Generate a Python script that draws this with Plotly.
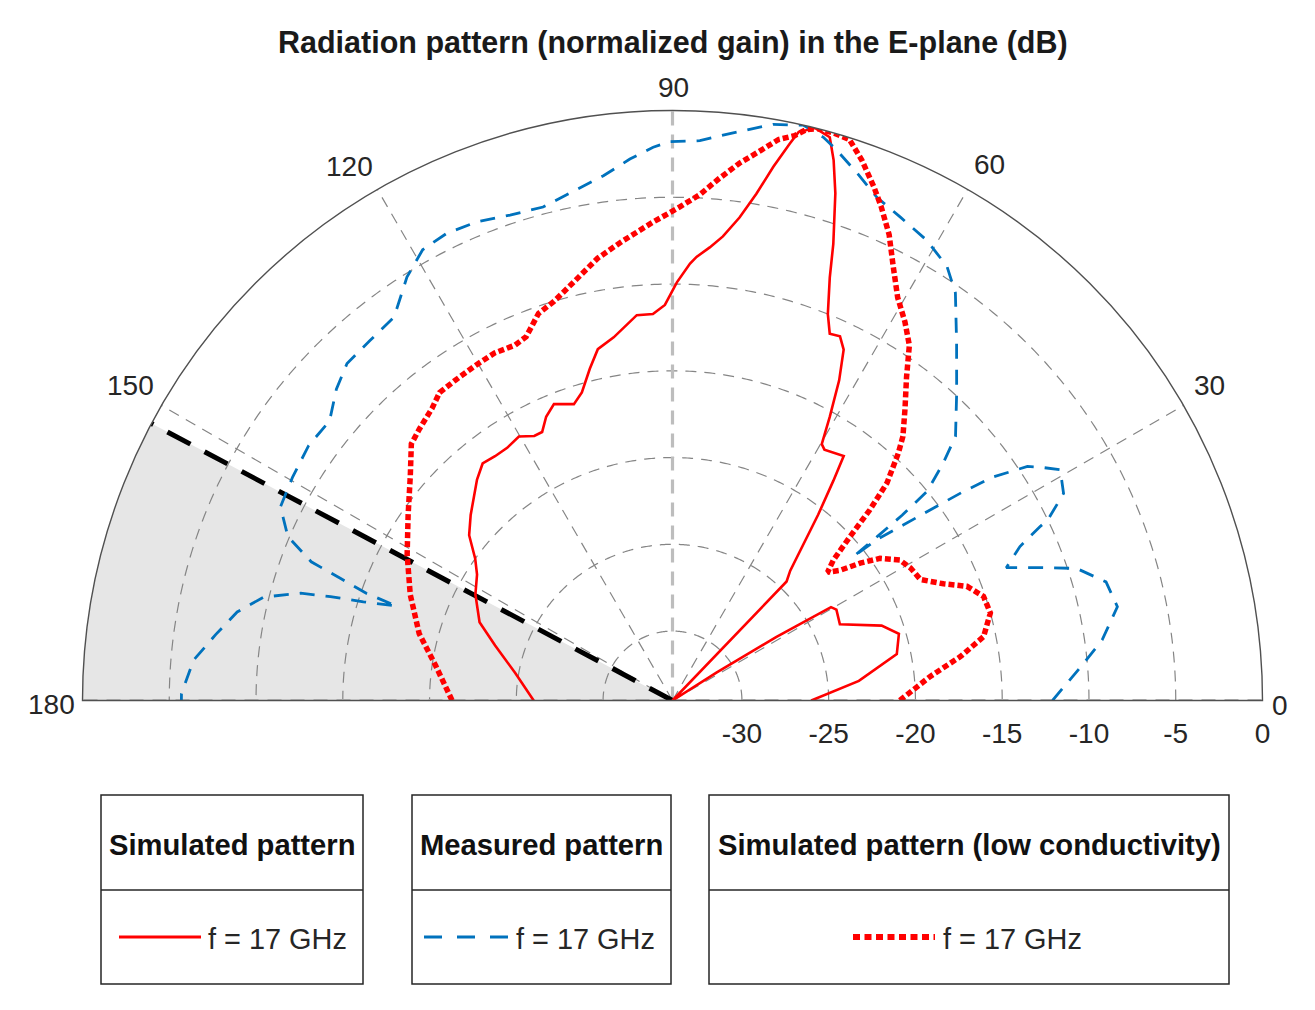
import numpy as np
import plotly.graph_objects as go

# ---------------- data (angle in degrees, normalized gain in dB) ----------------
sim_theta = [0, 6, 11.7, 16.4, 19.7, 24.5, 29, 30.5, 31.5, 32.5, 33.5, 45, 46.2, 47.8, 51.9, 53.8,
             55, 58.8, 59.8, 61, 62.5, 64, 65.3, 66.8, 68.1, 69.6, 70.6, 72.2, 73.4, 74.4, 76,
             77.5, 78.1, 79.3, 80.6, 82.1, 83.8, 85.3, 86.9, 87.7, 89.4, 91.1, 92.9, 95.3, 99.2,
             102, 104, 106.4, 108.4, 111.8, 114, 115.9, 117.6, 120.2, 123.2, 126, 128.7, 131.5,
             137.4, 140.9, 144.3, 147.2, 151.7, 157.9, 162.8, 170.1, 180]
sim_gain = [-26.0, -23.2, -20.8, -20.4, -21.2, -23.4, -23.2, -23.4, -27, -31, -34, -34, -24.5, -23.9,
            -20.4, -18.3, -16.8, -17.1, -16.9, -15.3, -13.2, -11.5, -10.9, -11.0, -10.0, -8.0, -6.1,
            -3.3, -1.5, -0.3, 0, -0.45, -1.2, -2.7, -4.4, -5.9, -7.1, -7.8, -8.4, -8.8, -9.9, -11.2,
            -11.7, -11.7, -12.8, -13.3, -14.3, -15.5, -16.0, -15.6, -16.1, -16.8, -16.8, -16.4,
            -16.6, -16.6, -16.5, -17.0, -18.2, -18.9, -20.0, -20.6, -21.1, -22.0, -23.3, -24.8, -26.0]

meas_theta = [0, 1.8, 4.7, 8.0, 11.9, 15.3, 18.1, 19.9, 21.7, 23.9, 25.3, 25.7, 27.9, 30.75, 32.2,
              33.4, 34.9, 35.7, 36.4, 37.25, 38.2, 38.5, 38.7, 38.9, 39.4, 41.2, 43.0, 47.2, 51.5,
              55.25, 57.7, 61.1, 64.8, 67.9, 70.7, 73.4, 75.0, 77.2, 80.1, 83.9, 87.2, 90.3, 92.0,
              94.5, 97.5, 101.0, 104.7, 108.5, 112.2, 115.8, 119.0, 122.1, 126.0, 130.0, 134.0,
              137.2, 140.8, 145.0, 149.5, 153.7, 156.9, 159.0, 159.8, 160.7, 161.1, 162.3, 163.1,
              163.9, 165.8, 168.5, 171.8, 175.2, 179.2, 180]
meas_gain = [-12.1, -11.5, -10.4, -9.0, -7.8, -8.1, -9.5, -11.5, -13.3, -12.1, -10.6, -10.0, -8.5,
             -8.0, -8.8, -9.5, -11.5, -13.4, -15.3, -17.3, -19.0, -20.7, -18.8, -17.0, -15.0, -13.3,
             -11.7, -9.9, -7.7, -5.4, -4.4, -3.7, -3.2, -2.7, -1.8, -0.9, -0.4, 0, -0.3, -1.1, -1.7,
             -1.8, -2.1, -2.7, -3.5, -4.1, -4.6, -4.5, -4.2, -4.1, -4.3, -5.2, -6.7, -6.9, -7.0,
             -7.6, -8.5, -8.4, -8.6, -8.8, -9.9, -11.7, -13.6, -15.3, -17.2, -15.3, -13.4, -11.7,
             -9.7, -8.4, -7.4, -6.3, -5.7, -5.7]

lowc_theta = [0, 5.3, 8.7, 11.6, 15.4, 18.5, 21.2, 23.3, 26.0, 29.1, 31.7, 34.4, 36.2, 37.9, 39.6,
              41.1, 42.7, 44.0, 45.4, 47.6, 48.9, 51.45, 54.1, 56.3, 58.45, 60.8, 63.1, 65.05, 67.1,
              68.6, 70.7, 72.5, 74.2, 75.7, 76.8, 77.8, 79.3, 81.1, 82.9, 84.9, 86.9, 89.15, 91.5,
              92.3, 96.35, 99.6, 103.2, 106.5, 109.1, 111.9, 113.9, 117.1, 120.45, 124.2, 127.1,
              129.5, 132.9, 135.5, 139.4, 145.0, 151.2, 158.0, 165.2, 171.6, 180]
lowc_gain = [-20.9, -19.1, -17.2, -15.7, -15.0, -15.1, -15.8, -17.0, -18.1, -18.3, -18.6, -19.5,
             -20.6, -21.8, -22.4, -21.7, -20.1, -18.2, -16.4, -14.7, -13.8, -12.5, -11.0, -9.4, -8.4,
             -7.4, -5.9, -4.4, -3.1, -2.2, -1.0, -0.1, 0, 0, -0.2, -0.7, -1.1, -2.0, -2.8, -3.8,
             -4.8, -5.55, -6.2, -6.4, -7.4, -8.15, -9.2, -10.0, -10.4, -11.4, -11.6, -11.5, -11.6,
             -11.7, -11.75, -12.2, -12.6, -12.9, -14.1, -15.4, -16.55, -17.7, -18.9, -20.2, -21.3]

radial_ticks = [-30, -25, -20, -15, -10, -5, 0]
angular_ticks = [0, 30, 60, 90, 120, 150, 180]
r_min, r_max = -34, 0
blocked_from, blocked_to = 152, 180

legend_headers = ["Simulated pattern", "Measured pattern", "Simulated pattern (low conductivity)"]
legend_labels = ["f = 17 GHz", "f = 17 GHz", "f = 17 GHz"]

# ---------------- layout geometry (page pixels) ----------------
OFF = 8                      # page body margin around the plot div
WF, HF = 1299, 994           # figure size
cx, cy, R = 672.5, 700.5, 590
FONT = "Liberation Sans, Arial, Helvetica, sans-serif"
RED = "#ff0000"
BLUE = "#0072bd"
# where the angle labels sit (page pixels), one per angular tick
angle_label_pos = [(1280, 705), (1209, 386), (989, 165), (673, 87), (349, 166), (130, 385), (51, 704)]


def px(x):
    return (x - OFF) / WF


def py(y):
    return 1 - (y - OFF) / HF


fig = go.Figure()

# blocked sector shading
arc = np.linspace(blocked_from, blocked_to, 61)
fig.add_trace(go.Scatterpolar(
    r=[r_min] + [r_max] * len(arc) + [r_min],
    theta=[blocked_from] + list(arc) + [blocked_to],
    mode="lines", fill="toself", fillcolor="#e6e6e6",
    line=dict(width=0, color="rgba(0,0,0,0)"), hoverinfo="skip", showlegend=False))

# grid circles
th = np.linspace(0, 180, 361)
for rt in radial_ticks[:-1]:
    fig.add_trace(go.Scatterpolar(
        r=[rt] * len(th), theta=th, mode="lines",
        line=dict(color="#858585", width=1.2, dash="11px,8px"),
        hoverinfo="skip", showlegend=False))

# grid rays
for a in angular_ticks:
    thick = a in (0, 90, 180)
    fig.add_trace(go.Scatterpolar(
        r=[r_min, r_max], theta=[a, a], mode="lines",
        line=dict(color="#bdbdbd" if thick else "#858585",
                  width=3.2 if thick else 1.2,
                  dash="14px,9px" if thick else "11px,8px"),
        hoverinfo="skip", showlegend=False))

# black dashed boundary of blocked sector
fig.add_trace(go.Scatterpolar(
    r=[r_min, r_max], theta=[blocked_from, blocked_from], mode="lines",
    line=dict(color="black", width=5, dash="26px,16px"),
    hoverinfo="skip", showlegend=False))

# data curves
fig.add_trace(go.Scatterpolar(r=sim_gain, theta=sim_theta, mode="lines",
                              line=dict(color=RED, width=2.6), name=legend_headers[0],
                              showlegend=False))
fig.add_trace(go.Scatterpolar(r=meas_gain, theta=meas_theta, mode="lines",
                              line=dict(color=BLUE, width=2.8, dash="15px,11px"),
                              name=legend_headers[1], showlegend=False))
fig.add_trace(go.Scatterpolar(r=lowc_gain, theta=lowc_theta, mode="lines",
                              line=dict(color=RED, width=5.5, dash="6px,3px"),
                              name=legend_headers[2], showlegend=False))

fig.update_layout(
    width=WF, height=HF,
    margin=dict(l=0, r=0, t=0, b=0),
    paper_bgcolor="white",
    font=dict(family=FONT, color="#262626"),
    polar=dict(
        domain=dict(x=[px(cx - R), px(cx + R)], y=[py(cy), py(cy - R)]),
        sector=[0, 180],
        bgcolor="white",
        radialaxis=dict(range=[r_min, r_max], tickvals=radial_ticks,
                        ticktext=[str(v) for v in radial_ticks],
                        showgrid=False, showline=False, angle=0, side="clockwise",
                        ticks="outside", ticklen=8, tickcolor="rgba(0,0,0,0)",
                        tickfont=dict(size=28, color="#262626", family=FONT)),
        angularaxis=dict(tickvals=angular_ticks, showticklabels=False,
                         direction="counterclockwise", rotation=0,
                         showgrid=False, showline=True, linecolor="#505050", linewidth=1.4,
                         ticks=""),
    ),
)

# title
annotations = [dict(x=px(673), y=py(42), xref="paper", yref="paper", showarrow=False,
                    text="<b>Radiation pattern (normalized gain) in the E-plane (dB)</b>",
                    font=dict(size=30.5, color="#1a1a1a", family=FONT),
                    xanchor="center", yanchor="middle")]

# angle labels
for a, (lx, ly) in zip(angular_ticks, angle_label_pos):
    annotations.append(dict(x=px(lx), y=py(ly), xref="paper", yref="paper", showarrow=False,
                            text=str(a), font=dict(size=28, color="#262626", family=FONT),
                            xanchor="center", yanchor="middle"))

# legend tables
boxes = [(101, 363), (412, 671), (709, 1229)]
top, mid, bot = 795, 890, 984
samples = [(119, 201, 206), (424, 508, 514), (853, 935, 941)]
styles = [dict(color=RED, width=3), dict(color=BLUE, width=3, dash="18px,15px"),
          dict(color=RED, width=6, dash="7px,4.5px")]
shapes = []
for (x0, x1), hdr, lab, (s0, s1, tx), st in zip(boxes, legend_headers, legend_labels, samples, styles):
    shapes.append(dict(type="rect", xref="paper", yref="paper", x0=px(x0), x1=px(x1),
                       y0=py(bot), y1=py(top), line=dict(color="#262626", width=1.5)))
    shapes.append(dict(type="line", xref="paper", yref="paper", x0=px(x0), x1=px(x1),
                       y0=py(mid), y1=py(mid), line=dict(color="#262626", width=1.5)))
    shapes.append(dict(type="line", xref="paper", yref="paper", x0=px(s0), x1=px(s1),
                       y0=py(937), y1=py(937), line=st))
    annotations.append(dict(x=px((x0 + x1) / 2), y=py(845), xref="paper", yref="paper",
                            showarrow=False, text="<b>" + hdr + "</b>",
                            font=dict(size=29.2, color="#111111", family=FONT),
                            xanchor="center", yanchor="middle"))
    annotations.append(dict(x=px(tx), y=py(939), xref="paper", yref="paper",
                            showarrow=False, text=lab,
                            font=dict(size=28.9, color="#262626", family=FONT),
                            xanchor="left", yanchor="middle"))

fig.update_layout(shapes=shapes, annotations=annotations)
fig.write_html("out.html")
